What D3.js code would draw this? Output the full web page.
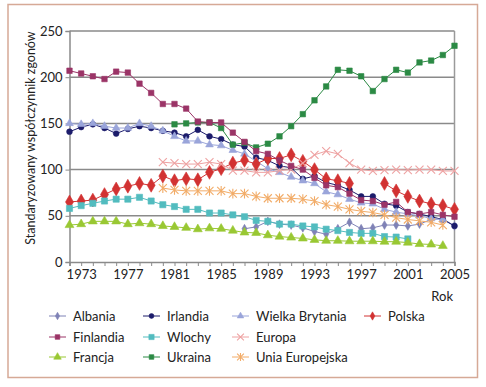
<!DOCTYPE html>
<html>
<head>
<meta charset="utf-8">
<script src="https://cdn.jsdelivr.net/npm/d3@7"></script>
<style>
  body { margin: 0; background: #fff; }
  text { font-family: Lato, "Open Sans", sans-serif; fill: #222; }
</style>
</head>
<body>
<div id="chart"></div>
<script>
(function() {
  var width = 486,
    height = 387;

  var years = d3.range(1972, 2006);
  var yTicks = [0, 50, 100, 150, 200, 250];
  var xLabels = [1973, 1977, 1981, 1985, 1989, 1993, 1997, 2001, 2005];

  var albania = [null, null, null, null, null, null, null, null, null, null,
    null, null, null, null, null, 36, 38, 44, 41, 40,
    37, 33, 30, 36, 43, 36, 37, 40, 40, 39,
    41, 46, 47, 39];
  var irlandia = [141, 146, 149, 145, 139, 144, 147, 145, 142, 140,
    136, 143, 136, 133, 127, 125, 113, 110, 104, 102,
    90, 93, 86, 83, 78, 71, 71, 63, 61, 54,
    52, 49, 46, 39];
  var wielkaBrytania = [150, 149, 150, 147, 145, 145, 150, 147, 142, 136,
    131, 131, 127, 126, 121, 117, 109, 101, 97, 92,
    88, 85, 76, 73, 68, 64, 63, 57, 54, 52,
    50, 47, 46, null];
  var polska = [65, 66, 67, 73, 79, 82, 85, 83, 93, 88,
    90, 89, 97, 101, 107, 110, 106, 112, 112, 116,
    109, 100, 90, 88, 85, null, null, 85, 77, 71,
    66, 63, 61, 57];
  var finlandia = [207, 204, 201, 198, 206, 205, 193, 183, 171, 171,
    166, 152, 151, 151, 140, 130, 120, 117, 110, 104,
    100, 91, 83, 81, 74, 67, 66, 62, 65, 54,
    52, 54, 51, 49];
  var wlochy = [58, 61, 63.5, 66, 68, 68, 70, 66, 62, 60,
    57, 57, 53, 53, 51, 49, 45, 44, 41, 41,
    39, 38, 35.5, 34, 32, 31, 31, 27.5, 27, 25,
    null, null, null, null];
  var europa = [null, null, null, null, null, null, null, null, 108, 107,
    106, 106, 108, 106, 99, 99, 97, 97, 99, 100,
    107, 116, 120, 117, 107, 100, 98.5, 99.5, 100, 99.5,
    100, 100, 98.5, 98.5];
  var francja = [40, 41, 44, 44, 44, 41, 42, 41, 39, 38,
    37, 35.5, 36.5, 36, 34, 32, 31.5, 29, 27.5, 26.5,
    25.5, 24, 23, 23, 22.5, 22.5, 22.5, 22, 22, 21,
    19.5, 19, 17.5, null];
  var ukraina = [null, null, null, null, null, null, null, null, null, 149,
    150, 151, 151, 145, 127, 129, 124, 128, 136, 147,
    160, 175, 190, 208, 207, 201, 185, 198, 208, 205,
    216, 218, 224, 234];
  var uniaEuropejska = [null, null, null, null, null, null, null, null, 80, 78,
    77, 77, 77, 77, 74, 74, 71, 69, 69, 69,
    68, 66, 62, 60, 57, 55, 53.5, 51, 48, 46,
    44.5, 43, 40, null];

  // colours, marker shapes and legend slot (column, row)
  var series = [
    { name: "Albania", values: albania, color: "#7f82b6", shape: "diamond", size: 22, col: 0, row: 0 },
    { name: "Irlandia", values: irlandia, color: "#1c1c6b", shape: "circle", size: 26, col: 1, row: 0 },
    { name: "Wielka Brytania", values: wielkaBrytania, color: "#9aa5da", shape: "triangle", size: 26, col: 2, row: 0 },
    { name: "Polska", values: polska, color: "#d23232", shape: "diamond", size: 55, col: 3, row: 0 },
    { name: "Finlandia", values: finlandia, color: "#9b3467", shape: "square", size: 30, col: 0, row: 1 },
    { name: "Wlochy", values: wlochy, color: "#52bcbf", shape: "square", size: 38, col: 1, row: 1 },
    { name: "Europa", values: europa, color: "#eea2a2", shape: "x", size: 4, col: 2, row: 1 },
    { name: "Francja", values: francja, color: "#99c833", shape: "triangle", size: 34, col: 0, row: 2 },
    { name: "Ukraina", values: ukraina, color: "#2b8a44", shape: "square", size: 30, col: 1, row: 2 },
    { name: "Unia Europejska", values: uniaEuropejska, color: "#f2ac68", shape: "star", size: 4, col: 2, row: 2 }
  ];
  var drawOrder = [0, 1, 2, 3, 5, 6, 7, 8, 4, 9];

  var svg = d3.select("#chart")
    .append("svg")
    .attr("width", width)
    .attr("height", height)

  svg.append("rect")
    .attr("x", 8).attr("y", 4.5)
    .attr("width", 469.5).attr("height", 373)
    .attr("fill", "#fff")
    .attr("stroke", "#d6a996")
    .attr("stroke-width", 1.5)

  var x = d3.scaleLinear().domain([1972, 2005]).range([69.5, 454.5])
  var y = d3.scaleLinear().domain([0, 250]).range([262, 31])

  // gridlines
  svg.append("g")
    .selectAll("line")
    .data(yTicks.slice(1))
    .enter().append("line")
    .attr("x1", x(1972)).attr("x2", x(2005))
    .attr("y1", function(d) { return y(d) }).attr("y2", function(d) { return y(d) })
    .attr("stroke", "#8a8a8a")
    .attr("stroke-width", 1.5)

  svg.append("line")
    .attr("x1", x(2005)).attr("x2", x(2005))
    .attr("y1", y(250)).attr("y2", y(0))
    .attr("stroke", "#9a9a9a")
    .attr("stroke-width", 1.5)

  var yAxis = svg.append("g")
    .attr("transform", "translate(" + x(1972) + ",0)")
    .call(d3.axisLeft(y).tickValues(yTicks).tickSize(4).tickPadding(3))
  yAxis.select(".domain").attr("stroke", "#8a8a8a").attr("stroke-width", 1.5)
  yAxis.selectAll(".tick line").attr("stroke", "#8a8a8a")
  yAxis.selectAll(".tick text").style("font-size", "13px").attr("fill", "#222")

  var xAxis = svg.append("g")
    .attr("transform", "translate(0," + y(0) + ")")
    .call(d3.axisBottom(x).tickValues(years).tickSize(4).tickPadding(4)
      .tickFormat(function(d) { return xLabels.indexOf(d) >= 0 ? d : "" }))
  xAxis.select(".domain").attr("stroke", "#8a8a8a").attr("stroke-width", 1.5)
  xAxis.selectAll(".tick line").attr("stroke", "#8a8a8a")
  xAxis.selectAll(".tick text").style("font-size", "13px").attr("fill", "#222")

  svg.append("text")
    .attr("transform", "translate(35,138) rotate(-90)")
    .attr("text-anchor", "middle")
    .style("font-size", "12.5px")
    .text("Standaryzowany współczynnik zgonów")

  svg.append("text")
    .attr("x", 453).attr("y", 301)
    .attr("text-anchor", "end")
    .style("font-size", "13px")
    .text("Rok")

  function markerPath(s, k) {
    if (s.shape == "x" || s.shape == "star") {
      var r = s.size * k
      var p = "M" + -r + "," + -r + "L" + r + "," + r + "M" + -r + "," + r + "L" + r + "," + -r
      if (s.shape == "star") p += "M0," + -r * 1.2 + "L0," + r * 1.2
      return p
    }
    var types = { diamond: d3.symbolDiamond, circle: d3.symbolCircle, triangle: d3.symbolTriangle, square: d3.symbolSquare }
    return d3.symbol().type(types[s.shape]).size(s.size * k * k)()
  }

  function drawMarker(g, s, cx, cy, k) {
    var open = s.shape == "x" || s.shape == "star"
    g.append("path")
      .attr("transform", "translate(" + cx + "," + cy + ")")
      .attr("d", markerPath(s, k))
      .attr("fill", open ? "none" : s.color)
      .attr("stroke", s.color)
      .attr("stroke-width", open ? 1.1 : 0.6)
  }

  var line = d3.line()
    .defined(function(d) { return d[1] != null })
    .x(function(d) { return x(d[0]) })
    .y(function(d) { return y(d[1]) })

  drawOrder.forEach(function(i) {
    var s = series[i]
    var pts = years.map(function(yr, j) { return [yr, s.values[j]] })
    var g = svg.append("g")
    g.append("path")
      .attr("d", line(pts))
      .attr("fill", "none")
      .attr("stroke", s.color)
      .attr("stroke-width", 1)
    pts.filter(function(p) { return p[1] != null }).forEach(function(p) {
      drawMarker(g, s, x(p[0]), y(p[1]), 1)
    })
  })

  // legend
  var colX = [49, 143, 232, 364]
  var rowY = [316, 337, 357]
  series.forEach(function(s) {
    var lx = colX[s.col], ly = rowY[s.row]
    var g = svg.append("g")
    g.append("line")
      .attr("x1", lx).attr("x2", lx + 17)
      .attr("y1", ly).attr("y2", ly)
      .attr("stroke", s.color)
    drawMarker(g, s, lx + 8.5, ly, s.shape == "diamond" && s.size > 30 ? 0.6 : 0.85)
    g.append("text")
      .attr("x", lx + 24).attr("y", ly + 4.5)
      .style("font-size", "13px")
      .text(s.name)
  })
})();
</script>
</body>
</html>
